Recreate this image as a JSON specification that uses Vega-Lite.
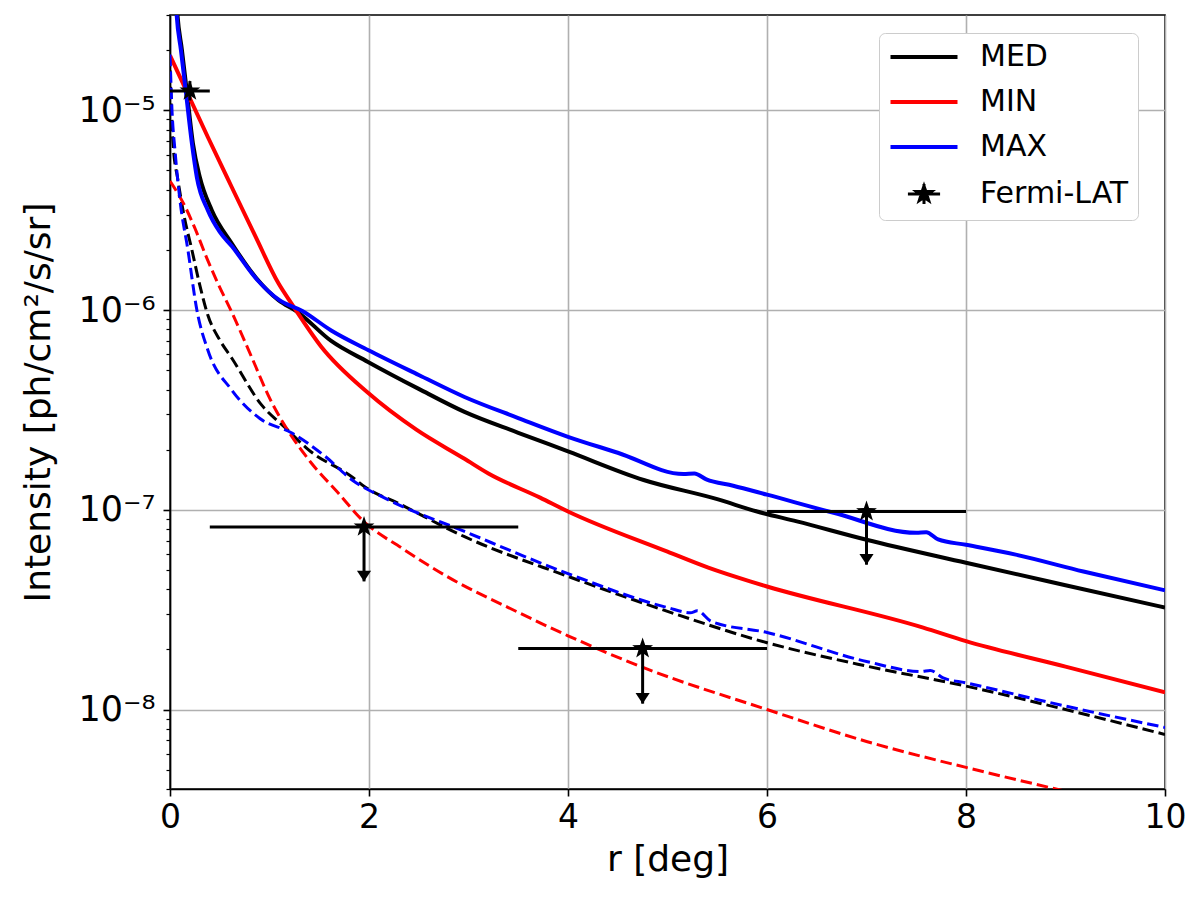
{
  "$schema": "https://vega.github.io/schema/vega-lite/v6.json",
  "width": 995,
  "height": 774,
  "autosize": {"type": "none"},
  "padding": {"left": 170, "top": 15, "right": 35, "bottom": 111},
  "background": "white",
  "config": {
    "font": "DejaVu Sans",
    "view": {"stroke": "black", "strokeWidth": 1.6}
  },
  "resolve": {"axis": {"y": "independent"}},
  "datasets": {
    "curves": [
      {"r": 0.02, "I": 1.0e-4, "model": "MED", "line": "solid"},
      {"r": 0.075, "I": 3.0e-5, "model": "MED", "line": "solid"},
      {"r": 0.12, "I": 2.0e-5, "model": "MED", "line": "solid"},
      {"r": 0.17, "I": 1.23e-5, "model": "MED", "line": "solid"},
      {"r": 0.23, "I": 6.84e-6, "model": "MED", "line": "solid"},
      {"r": 0.30, "I": 4.62e-6, "model": "MED", "line": "solid"},
      {"r": 0.42, "I": 3.16e-6, "model": "MED", "line": "solid"},
      {"r": 0.62, "I": 2.16e-6, "model": "MED", "line": "solid"},
      {"r": 0.86, "I": 1.46e-6, "model": "MED", "line": "solid"},
      {"r": 1.09, "I": 1.12e-6, "model": "MED", "line": "solid"},
      {"r": 1.28, "I": 9.8e-7, "model": "MED", "line": "solid"},
      {"r": 1.62, "I": 7.0e-7, "model": "MED", "line": "solid"},
      {"r": 1.99, "I": 5.50e-7, "model": "MED", "line": "solid"},
      {"r": 2.5, "I": 4.03e-7, "model": "MED", "line": "solid"},
      {"r": 2.96, "I": 3.09e-7, "model": "MED", "line": "solid"},
      {"r": 3.5, "I": 2.43e-7, "model": "MED", "line": "solid"},
      {"r": 4.0, "I": 1.96e-7, "model": "MED", "line": "solid"},
      {"r": 4.76, "I": 1.41e-7, "model": "MED", "line": "solid"},
      {"r": 5.5, "I": 1.13e-7, "model": "MED", "line": "solid"},
      {"r": 5.9, "I": 9.8e-8, "model": "MED", "line": "solid"},
      {"r": 6.3, "I": 8.75e-8, "model": "MED", "line": "solid"},
      {"r": 7.0, "I": 7.08e-8, "model": "MED", "line": "solid"},
      {"r": 8.0, "I": 5.43e-8, "model": "MED", "line": "solid"},
      {"r": 9.0, "I": 4.19e-8, "model": "MED", "line": "solid"},
      {"r": 10.0, "I": 3.24e-8, "model": "MED", "line": "solid"},

      {"r": 0.0, "I": 1.88e-5, "model": "MIN", "line": "solid"},
      {"r": 0.38, "I": 7.35e-6, "model": "MIN", "line": "solid"},
      {"r": 0.62, "I": 4.13e-6, "model": "MIN", "line": "solid"},
      {"r": 0.86, "I": 2.33e-6, "model": "MIN", "line": "solid"},
      {"r": 1.09, "I": 1.36e-6, "model": "MIN", "line": "solid"},
      {"r": 1.22, "I": 1.08e-6, "model": "MIN", "line": "solid"},
      {"r": 1.52, "I": 6.55e-7, "model": "MIN", "line": "solid"},
      {"r": 1.99, "I": 3.85e-7, "model": "MIN", "line": "solid"},
      {"r": 2.48, "I": 2.51e-7, "model": "MIN", "line": "solid"},
      {"r": 2.96, "I": 1.80e-7, "model": "MIN", "line": "solid"},
      {"r": 3.2, "I": 1.52e-7, "model": "MIN", "line": "solid"},
      {"r": 3.72, "I": 1.15e-7, "model": "MIN", "line": "solid"},
      {"r": 4.0, "I": 9.81e-8, "model": "MIN", "line": "solid"},
      {"r": 5.0, "I": 6.17e-8, "model": "MIN", "line": "solid"},
      {"r": 5.41, "I": 5.13e-8, "model": "MIN", "line": "solid"},
      {"r": 5.83, "I": 4.38e-8, "model": "MIN", "line": "solid"},
      {"r": 6.0, "I": 4.13e-8, "model": "MIN", "line": "solid"},
      {"r": 7.57, "I": 2.57e-8, "model": "MIN", "line": "solid"},
      {"r": 8.0, "I": 2.20e-8, "model": "MIN", "line": "solid"},
      {"r": 9.0, "I": 1.64e-8, "model": "MIN", "line": "solid"},
      {"r": 10.0, "I": 1.22e-8, "model": "MIN", "line": "solid"},

      {"r": 0.02, "I": 1.0e-4, "model": "MAX", "line": "solid"},
      {"r": 0.067, "I": 3.0e-5, "model": "MAX", "line": "solid"},
      {"r": 0.11, "I": 2.0e-5, "model": "MAX", "line": "solid"},
      {"r": 0.16, "I": 1.23e-5, "model": "MAX", "line": "solid"},
      {"r": 0.22, "I": 6.84e-6, "model": "MAX", "line": "solid"},
      {"r": 0.27, "I": 4.62e-6, "model": "MAX", "line": "solid"},
      {"r": 0.38, "I": 3.16e-6, "model": "MAX", "line": "solid"},
      {"r": 0.5, "I": 2.46e-6, "model": "MAX", "line": "solid"},
      {"r": 0.62, "I": 2.09e-6, "model": "MAX", "line": "solid"},
      {"r": 0.88, "I": 1.41e-6, "model": "MAX", "line": "solid"},
      {"r": 1.1, "I": 1.12e-6, "model": "MAX", "line": "solid"},
      {"r": 1.33, "I": 9.9e-7, "model": "MAX", "line": "solid"},
      {"r": 1.62, "I": 7.90e-7, "model": "MAX", "line": "solid"},
      {"r": 1.99, "I": 6.31e-7, "model": "MAX", "line": "solid"},
      {"r": 2.5, "I": 4.73e-7, "model": "MAX", "line": "solid"},
      {"r": 2.96, "I": 3.67e-7, "model": "MAX", "line": "solid"},
      {"r": 3.5, "I": 2.88e-7, "model": "MAX", "line": "solid"},
      {"r": 4.0, "I": 2.32e-7, "model": "MAX", "line": "solid"},
      {"r": 4.5, "I": 1.93e-7, "model": "MAX", "line": "solid"},
      {"r": 5.16, "I": 1.51e-7, "model": "MAX", "line": "solid"},
      {"r": 5.27, "I": 1.52e-7, "model": "MAX", "line": "solid"},
      {"r": 5.39, "I": 1.42e-7, "model": "MAX", "line": "solid"},
      {"r": 5.66, "I": 1.32e-7, "model": "MAX", "line": "solid"},
      {"r": 6.0, "I": 1.19e-7, "model": "MAX", "line": "solid"},
      {"r": 6.67, "I": 9.66e-8, "model": "MAX", "line": "solid"},
      {"r": 7.5, "I": 7.67e-8, "model": "MAX", "line": "solid"},
      {"r": 7.6, "I": 7.72e-8, "model": "MAX", "line": "solid"},
      {"r": 7.72, "I": 7.1e-8, "model": "MAX", "line": "solid"},
      {"r": 8.0, "I": 6.68e-8, "model": "MAX", "line": "solid"},
      {"r": 8.5, "I": 5.96e-8, "model": "MAX", "line": "solid"},
      {"r": 9.18, "I": 4.91e-8, "model": "MAX", "line": "solid"},
      {"r": 10.0, "I": 3.95e-8, "model": "MAX", "line": "solid"},

      {"r": 0.0, "I": 1.585e-5, "model": "MED", "line": "dashed"},
      {"r": 0.03, "I": 6.84e-6, "model": "MED", "line": "dashed"},
      {"r": 0.08, "I": 4.47e-6, "model": "MED", "line": "dashed"},
      {"r": 0.14, "I": 2.99e-6, "model": "MED", "line": "dashed"},
      {"r": 0.22, "I": 2.0e-6, "model": "MED", "line": "dashed"},
      {"r": 0.30, "I": 1.33e-6, "model": "MED", "line": "dashed"},
      {"r": 0.38, "I": 9.44e-7, "model": "MED", "line": "dashed"},
      {"r": 0.50, "I": 7.08e-7, "model": "MED", "line": "dashed"},
      {"r": 0.62, "I": 5.75e-7, "model": "MED", "line": "dashed"},
      {"r": 0.92, "I": 3.35e-7, "model": "MED", "line": "dashed"},
      {"r": 1.16, "I": 2.57e-7, "model": "MED", "line": "dashed"},
      {"r": 1.39, "I": 2.0e-7, "model": "MED", "line": "dashed"},
      {"r": 1.83, "I": 1.46e-7, "model": "MED", "line": "dashed"},
      {"r": 1.96, "I": 1.30e-7, "model": "MED", "line": "dashed"},
      {"r": 2.29, "I": 1.08e-7, "model": "MED", "line": "dashed"},
      {"r": 2.96, "I": 7.33e-8, "model": "MED", "line": "dashed"},
      {"r": 4.0, "I": 4.64e-8, "model": "MED", "line": "dashed"},
      {"r": 5.0, "I": 3.10e-8, "model": "MED", "line": "dashed"},
      {"r": 6.0, "I": 2.16e-8, "model": "MED", "line": "dashed"},
      {"r": 7.0, "I": 1.65e-8, "model": "MED", "line": "dashed"},
      {"r": 8.0, "I": 1.31e-8, "model": "MED", "line": "dashed"},
      {"r": 9.0, "I": 1.0e-8, "model": "MED", "line": "dashed"},
      {"r": 10.0, "I": 7.5e-9, "model": "MED", "line": "dashed"},

      {"r": 0.0, "I": 4.42e-6, "model": "MIN", "line": "dashed"},
      {"r": 0.15, "I": 3.31e-6, "model": "MIN", "line": "dashed"},
      {"r": 0.25, "I": 2.57e-6, "model": "MIN", "line": "dashed"},
      {"r": 0.37, "I": 1.82e-6, "model": "MIN", "line": "dashed"},
      {"r": 0.48, "I": 1.365e-6, "model": "MIN", "line": "dashed"},
      {"r": 0.62, "I": 9.77e-7, "model": "MIN", "line": "dashed"},
      {"r": 0.82, "I": 5.82e-7, "model": "MIN", "line": "dashed"},
      {"r": 1.0, "I": 3.63e-7, "model": "MIN", "line": "dashed"},
      {"r": 1.2, "I": 2.43e-7, "model": "MIN", "line": "dashed"},
      {"r": 1.41, "I": 1.74e-7, "model": "MIN", "line": "dashed"},
      {"r": 1.68, "I": 1.23e-7, "model": "MIN", "line": "dashed"},
      {"r": 1.94, "I": 8.81e-8, "model": "MIN", "line": "dashed"},
      {"r": 2.34, "I": 6.38e-8, "model": "MIN", "line": "dashed"},
      {"r": 2.84, "I": 4.47e-8, "model": "MIN", "line": "dashed"},
      {"r": 3.4, "I": 3.24e-8, "model": "MIN", "line": "dashed"},
      {"r": 4.0, "I": 2.34e-8, "model": "MIN", "line": "dashed"},
      {"r": 4.76, "I": 1.62e-8, "model": "MIN", "line": "dashed"},
      {"r": 6.0, "I": 1.0e-8, "model": "MIN", "line": "dashed"},
      {"r": 7.0, "I": 6.92e-9, "model": "MIN", "line": "dashed"},
      {"r": 8.0, "I": 5.13e-9, "model": "MIN", "line": "dashed"},
      {"r": 8.84, "I": 4.07e-9, "model": "MIN", "line": "dashed"},
      {"r": 10.0, "I": 2.99e-9, "model": "MIN", "line": "dashed"},

      {"r": 0.0, "I": 1.9e-5, "model": "MAX", "line": "dashed"},
      {"r": 0.02, "I": 1.0e-5, "model": "MAX", "line": "dashed"},
      {"r": 0.05, "I": 6.31e-6, "model": "MAX", "line": "dashed"},
      {"r": 0.1, "I": 3.55e-6, "model": "MAX", "line": "dashed"},
      {"r": 0.18, "I": 2.0e-6, "model": "MAX", "line": "dashed"},
      {"r": 0.27, "I": 1.0e-6, "model": "MAX", "line": "dashed"},
      {"r": 0.38, "I": 6.31e-7, "model": "MAX", "line": "dashed"},
      {"r": 0.62, "I": 3.98e-7, "model": "MAX", "line": "dashed"},
      {"r": 0.9, "I": 2.87e-7, "model": "MAX", "line": "dashed"},
      {"r": 1.22, "I": 2.43e-7, "model": "MAX", "line": "dashed"},
      {"r": 1.56, "I": 1.85e-7, "model": "MAX", "line": "dashed"},
      {"r": 1.83, "I": 1.41e-7, "model": "MAX", "line": "dashed"},
      {"r": 2.15, "I": 1.15e-7, "model": "MAX", "line": "dashed"},
      {"r": 2.96, "I": 7.79e-8, "model": "MAX", "line": "dashed"},
      {"r": 4.0, "I": 4.79e-8, "model": "MAX", "line": "dashed"},
      {"r": 5.0, "I": 3.24e-8, "model": "MAX", "line": "dashed"},
      {"r": 5.23, "I": 3.05e-8, "model": "MAX", "line": "dashed"},
      {"r": 5.3, "I": 3.12e-8, "model": "MAX", "line": "dashed"},
      {"r": 5.44, "I": 2.76e-8, "model": "MAX", "line": "dashed"},
      {"r": 6.0, "I": 2.43e-8, "model": "MAX", "line": "dashed"},
      {"r": 7.0, "I": 1.74e-8, "model": "MAX", "line": "dashed"},
      {"r": 7.55, "I": 1.55e-8, "model": "MAX", "line": "dashed"},
      {"r": 7.64, "I": 1.57e-8, "model": "MAX", "line": "dashed"},
      {"r": 7.77, "I": 1.44e-8, "model": "MAX", "line": "dashed"},
      {"r": 8.0, "I": 1.36e-8, "model": "MAX", "line": "dashed"},
      {"r": 9.0, "I": 1.04e-8, "model": "MAX", "line": "dashed"},
      {"r": 10.0, "I": 8.13e-9, "model": "MAX", "line": "dashed"}
    ],
    "fermi": [
      {"r": 0.2, "I": 1.25e-5, "rlo": 0.0, "rhi": 0.4, "Ilo": 1.12e-5, "Ihi": 1.40e-5, "ul": false},
      {"r": 1.95, "I": 8.2e-8, "rlo": 0.4, "rhi": 3.5, "Ilo": 4.38e-8, "Ihi": 8.2e-8, "ul": true},
      {"r": 4.75, "I": 2.02e-8, "rlo": 3.5, "rhi": 6.0, "Ilo": 1.07e-8, "Ihi": 2.02e-8, "ul": true},
      {"r": 7.0, "I": 9.8e-8, "rlo": 6.0, "rhi": 8.0, "Ilo": 5.31e-8, "Ihi": 9.8e-8, "ul": true}
    ]
  },
  "layer": [
    {
      "data": {"name": "curves"},
      "transform": [{"filter": "datum.line === 'solid'"}],
      "mark": {"type": "line", "strokeWidth": 4, "clip": true, "interpolate": "monotone"},
      "encoding": {
        "x": {
          "field": "r", "type": "quantitative", "title": "r [deg]",
          "scale": {"domain": [0, 10], "nice": false, "zero": false},
          "axis": {
            "values": [0, 2, 4, 6, 8, 10], "format": "d",
            "grid": true, "gridColor": "#b0b0b0", "gridWidth": 1.6,
            "domainColor": "black", "domainWidth": 1.6,
            "tickColor": "black", "tickSize": 7, "tickWidth": 1.6,
            "labelFont": "DejaVu Sans", "labelFontSize": 33, "labelColor": "black", "labelPadding": 5,
            "labelFlush": false,
            "titleFont": "DejaVu Sans", "titleFontSize": 36, "titleFontWeight": "normal", "titleColor": "black", "titlePadding": 8
          }
        },
        "y": {
          "field": "I", "type": "quantitative",
          "scale": {"type": "log", "domain": [4e-9, 3e-5], "nice": false},
          "axis": {
            "orient": "left",
            "values": [1e-8, 1e-7, 1e-6, 1e-5],
            "labelExpr": "'10⁻' + ['⁰','¹','²','³','⁴','⁵','⁶','⁷','⁸','⁹'][-round(log(datum.value)/LN10)]",
            "labelOverlap": false,
            "title": "Intensity [ph/cm²/s/sr]",
            "grid": true, "gridColor": "#b0b0b0", "gridWidth": 1.6,
            "domainColor": "black", "domainWidth": 1.6,
            "tickColor": "black", "tickSize": 7, "tickWidth": 1.6,
            "labelFont": "DejaVu Sans", "labelFontSize": 35, "labelColor": "black", "labelPadding": 8,
            "labelFlush": false,
            "titleFont": "DejaVu Sans", "titleFontSize": 36, "titleFontWeight": "normal", "titleColor": "black", "titlePadding": 20
          }
        },
        "color": {
          "field": "model", "type": "nominal",
          "scale": {"domain": ["MED", "MIN", "MAX", "Fermi-LAT"], "range": ["black", "red", "blue", "black"]},
          "legend": {
            "title": null, "orient": "none", "legendX": 709, "legendY": 18,
            "labelFont": "DejaVu Sans", "labelFontSize": 30, "labelColor": "black",
            "labelExpr": "datum.label + ' '",
            "symbolType": "stroke", "symbolSize": 4489, "symbolStrokeWidth": 4,
            "padding": 9, "rowPadding": 15, "symbolOffset": 21, "labelOffset": 41,
            "strokeColor": "#cccccc", "fillColor": "white", "cornerRadius": 6,
            "encode": {
              "symbols": {
                "update": {
                  "shape": {"signal": "datum.value === 'Fermi-LAT' ? 'M0,-0.24L0.056,-0.077L0.228,-0.074L0.09,0.029L0.141,0.194L0,0.095L-0.141,0.194L-0.09,0.029L-0.228,-0.074L-0.056,-0.077ZM-0.48,0L0.48,0M0,-0.3L0,0.3' : 'stroke'"},
                  "fill": {"signal": "datum.value === 'Fermi-LAT' ? 'black' : 'transparent'"},
                  "stroke": {"signal": "datum.value === 'MIN' ? 'red' : datum.value === 'MAX' ? 'blue' : 'black'"},
                  "strokeWidth": {"signal": "datum.value === 'Fermi-LAT' ? 3 : 4"}
                }
              }
            }
          }
        }
      }
    },
    {
      "data": {"name": "curves"},
      "transform": [{"filter": "datum.line === 'dashed'"}],
      "mark": {"type": "line", "strokeWidth": 3, "strokeDash": [11.5, 5], "clip": true, "interpolate": "monotone"},
      "encoding": {
        "x": {"field": "r", "type": "quantitative", "title": "r [deg]"},
        "y": {
          "field": "I", "type": "quantitative",
          "axis": {
            "orient": "left",
            "values": [4e-9, 5e-9, 6e-9, 7e-9, 8e-9, 9e-9, 2e-8, 3e-8, 4e-8, 5e-8, 6e-8, 7e-8, 8e-8, 9e-8, 2e-7, 3e-7, 4e-7, 5e-7, 6e-7, 7e-7, 8e-7, 9e-7, 2e-6, 3e-6, 4e-6, 5e-6, 6e-6, 7e-6, 8e-6, 9e-6, 2e-5, 3e-5],
            "labels": false, "grid": false, "domain": false, "title": null,
            "tickColor": "black", "tickSize": 4, "tickWidth": 1.2
          }
        },
        "color": {"field": "model", "type": "nominal", "legend": null}
      }
    },
    {
      "data": {"name": "fermi"},
      "mark": {"type": "rule", "color": "black", "strokeWidth": 3},
      "encoding": {
        "x": {"field": "rlo", "type": "quantitative", "title": "r [deg]"},
        "x2": {"field": "rhi"},
        "y": {"field": "I", "type": "quantitative", "axis": null}
      }
    },
    {
      "data": {"name": "fermi"},
      "mark": {"type": "rule", "color": "black", "strokeWidth": 3},
      "encoding": {
        "x": {"field": "r", "type": "quantitative", "title": "r [deg]"},
        "y": {"field": "Ilo", "type": "quantitative", "axis": null},
        "y2": {"field": "Ihi"}
      }
    },
    {
      "data": {"name": "fermi"},
      "transform": [{"filter": "datum.ul"}],
      "mark": {"type": "point", "shape": "M-1,-1.5L1,-1.5L0,0Z", "size": 200, "filled": true, "color": "black", "opacity": 1},
      "encoding": {
        "x": {"field": "r", "type": "quantitative", "title": "r [deg]"},
        "y": {"field": "Ilo", "type": "quantitative", "axis": null}
      }
    },
    {
      "data": {"name": "fermi"},
      "mark": {"type": "point", "shape": "M0,-1L0.235,-0.324L0.951,-0.309L0.38,0.124L0.588,0.809L0,0.4L-0.588,0.809L-0.38,0.124L-0.951,-0.309L-0.235,-0.324Z", "size": 480, "filled": true, "color": "black", "opacity": 1},
      "encoding": {
        "x": {"field": "r", "type": "quantitative", "title": "r [deg]"},
        "y": {"field": "I", "type": "quantitative", "axis": null}
      }
    }
  ]
}
